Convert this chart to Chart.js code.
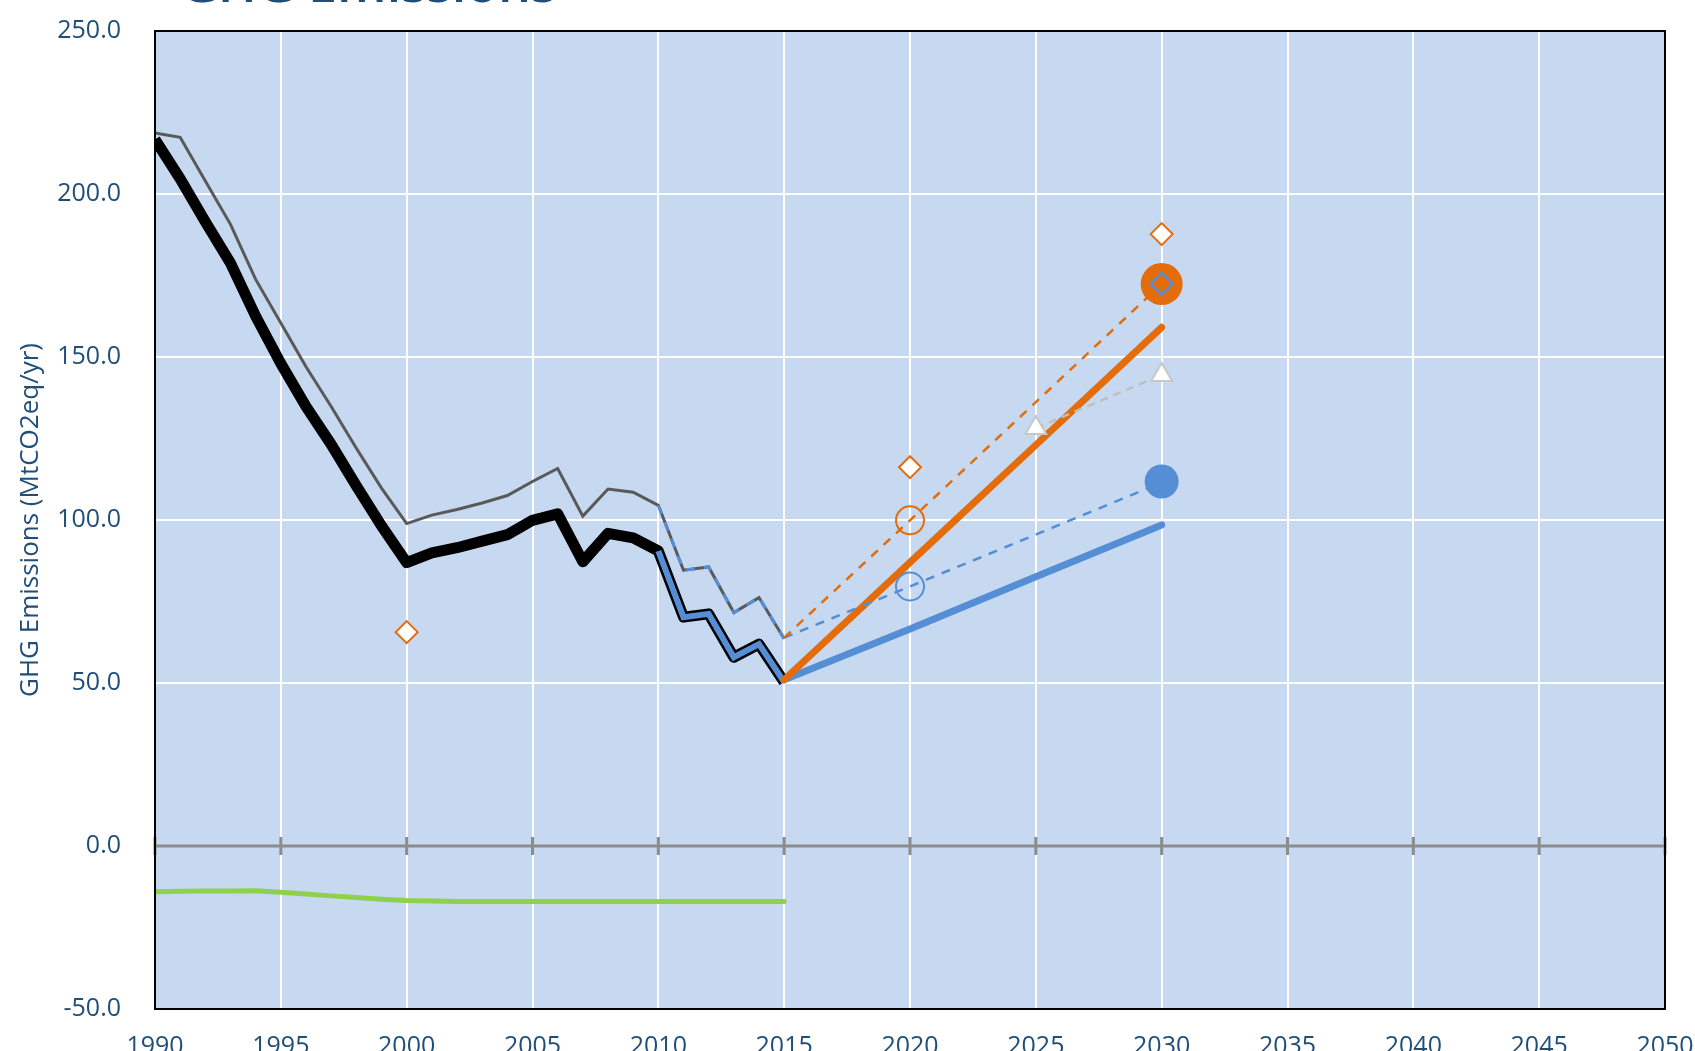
<!DOCTYPE html>
<html>
<head>
<meta charset="utf-8">
<script src="https://cdn.jsdelivr.net/npm/chart.js@4.4.1/dist/chart.umd.min.js"></script>
<style>
  html, body { margin: 0; padding: 0; background: #fff; overflow: hidden; width: 1695px; height: 1051px; }
  #wrap { position: absolute; left: 0; top: -40px; width: 1695px; height: 1125px; }
</style>
</head>
<body>
<div id="wrap"><canvas id="chart"></canvas></div>
<script>
const histYears = [1990, 1991, 1992, 1993, 1994, 1995, 1996, 1997, 1998, 1999, 2000, 2001, 2002,
  2003, 2004, 2005, 2006, 2007, 2008, 2009, 2010, 2011, 2012, 2013, 2014, 2015];
const netTotal = [216.7, 204.7, 191.5, 178.8, 162.5, 148.0, 134.8, 123.2, 110.5, 98.2, 86.9, 89.9, 91.5,
  93.5, 95.5, 99.9, 101.9, 87.2, 95.9, 94.5, 90.5, 70.2, 71.2, 57.9, 61.9, 50.3];
const grossTotal = [218.7, 217.4, 204.0, 190.7, 173.8, 160.4, 147.0, 134.8, 122.0, 109.8, 98.9, 101.5, 103.2,
  105.2, 107.5, 111.8, 115.8, 101.2, 109.5, 108.5, 104.5, 84.6, 85.6, 71.6, 76.2, 63.6];
const lulucf = [-14.0, -13.9, -13.8, -13.8, -13.7, -14.2, -14.7, -15.3, -15.8, -16.3, -16.7, -16.9, -17.0,
  -17.0, -17.0, -17.0, -17.0, -17.0, -17.0, -17.0, -17.0, -17.0, -17.0, -17.0, -17.0, -17.0];

const projYears = [2015, 2020, 2025, 2030];
const projHigh = [51.0, 87.0, 123.0, 159.1];
const projLow = [51.0, 66.6, 82.6, 98.5];

const targetYears = [2015, 2020, 2030];
const targetHigh = [63.9, 99.9, 172.4];
const targetLow = [63.9, 79.6, 111.5];

const triYears = [2025, 2030];
const triValues = [128.2, 144.5];

const diamondYears = [2000, 2020, 2030];
const diamondValues = [65.6, 116.2, 187.7];

const bigOrange = 172.4;
const bigBlue = 111.8;

const xTicks = [1990, 1995, 2000, 2005, 2010, 2015, 2020, 2025, 2030, 2035, 2040, 2045, 2050];

const ORANGE = "#e46c0a";
const BLUE = "#558ed5";
const TEXT = "#1f4e79";

const pts = (xs, ys) => xs.map((x, i) => ({ x, y: ys[i] }));
const lastFive = (arr) => arr.slice(histYears.indexOf(2010));

// background, zero line with cross ticks, frame and the (cropped) chart title
const plotFrame = {
  id: "plotFrame",
  beforeDraw(chart) {
    const { ctx, chartArea: a } = chart;
    ctx.save();
    ctx.fillStyle = "#c6d9f0";
    ctx.fillRect(a.left, a.top, a.right - a.left, a.bottom - a.top);
    ctx.restore();
  },
  beforeDatasetsDraw(chart) {
    const { ctx, chartArea: a, scales } = chart;
    const y0 = scales.y.getPixelForValue(0);
    ctx.save();
    ctx.strokeStyle = "#8c8c8c";
    ctx.lineWidth = 3;
    ctx.beginPath();
    ctx.moveTo(a.left, y0);
    ctx.lineTo(a.right, y0);
    xTicks.forEach((v) => {
      const x = scales.x.getPixelForValue(v);
      ctx.moveTo(x, y0 - 9);
      ctx.lineTo(x, y0 + 9);
    });
    ctx.stroke();
    ctx.restore();
  },
  afterDraw(chart) {
    const { ctx, chartArea: a } = chart;
    ctx.save();
    ctx.strokeStyle = "#000";
    ctx.lineWidth = 2;
    ctx.strokeRect(a.left, a.top, a.right - a.left, a.bottom - a.top);
    ctx.fillStyle = TEXT;
    ctx.font = "600 52px 'Open Sans'";
    ctx.textBaseline = "alphabetic";
    ctx.textAlign = "left";
    ctx.fillText("GHG Emissions", 180, 42);
    ctx.restore();
  },
};

new Chart(document.getElementById("chart"), {
  type: "line",
  data: {
    datasets: [
      { data: [{ x: 2030, y: bigOrange }], pointStyle: "rectRot", pointRadius: 11, pointBorderWidth: 2.5,
        pointBorderColor: BLUE, pointBackgroundColor: "rgba(0,0,0,0)", showLine: false },
      { data: [{ x: 2030, y: bigOrange }], pointRadius: 21, pointBackgroundColor: ORANGE, pointBorderWidth: 0, showLine: false },
      { data: pts(diamondYears, diamondValues), pointStyle: "rectRot", pointRadius: 11, pointBorderWidth: 2,
        pointBorderColor: ORANGE, pointBackgroundColor: "#fff", showLine: false },
      { data: [{ x: 2030, y: bigBlue }], pointRadius: 17, pointBackgroundColor: BLUE, pointBorderWidth: 0, showLine: false },
      { data: pts(triYears, triValues), borderColor: "#bfbfbf", borderWidth: 2.5, borderDash: [8, 6],
        pointStyle: "triangle", pointRadius: 12, pointBorderColor: "#c8c8c8", pointBackgroundColor: "#fff", pointBorderWidth: 2 },
      { data: pts(targetYears, targetHigh), borderColor: ORANGE, borderWidth: 2.5, borderDash: [9, 8],
        pointRadius: [0, 14, 0], pointBorderColor: ORANGE, pointBorderWidth: 2, pointBackgroundColor: "rgba(0,0,0,0)" },
      { data: pts(targetYears, targetLow), borderColor: BLUE, borderWidth: 2.5, borderDash: [9, 8],
        pointRadius: [0, 14, 0], pointBorderColor: BLUE, pointBorderWidth: 2, pointBackgroundColor: "rgba(0,0,0,0)" },
      { data: pts(projYears, projHigh), borderColor: ORANGE, borderWidth: 7, borderCapStyle: "round", pointRadius: 0 },
      { data: pts(projYears, projLow), borderColor: BLUE, borderWidth: 7, borderCapStyle: "round", pointRadius: 0 },
      { data: pts(histYears.slice(20), lastFive(grossTotal)), borderColor: BLUE, borderWidth: 3, borderDash: [9, 9], pointRadius: 0 },
      { data: pts(histYears, grossTotal), borderColor: "#595959", borderWidth: 3, pointRadius: 0 },
      { data: pts(histYears.slice(20), lastFive(netTotal)), borderColor: BLUE, borderWidth: 6, pointRadius: 0 },
      { data: pts(histYears, netTotal), borderColor: "#000", borderWidth: 11, borderJoinStyle: "round", pointRadius: 0 },
      { data: pts(histYears, lulucf), borderColor: "#8fd14f", borderWidth: 5, borderCapStyle: "round", pointRadius: 0 },
    ],
  },
  options: {
    responsive: true,
    maintainAspectRatio: false,
    animation: false,
    events: [],
    layout: { padding: { top: 71, right: 30, left: 0, bottom: 0 } },
    plugins: {
      legend: { display: false },
      tooltip: { enabled: false },
      title: { display: false },
    },
    scales: {
      x: {
        type: "linear",
        min: 1990,
        max: 2050,
        afterBuildTicks: (s) => { s.ticks = xTicks.map((v) => ({ value: v })); },
        afterFit: (s) => { s.paddingLeft = 0; s.paddingRight = 0; },
        ticks: { color: TEXT, font: { family: "Open Sans", size: 25 }, padding: 23, maxRotation: 0,
          callback: (v) => String(v) },
        grid: { color: "#ffffff", lineWidth: 2, drawTicks: false },
        border: { display: false },
      },
      y: {
        min: -50,
        max: 250,
        afterFit: (s) => { s.width = 155; s.paddingTop = 0; s.paddingBottom = 0; },
        ticks: { stepSize: 50, color: TEXT, font: { family: "Open Sans", size: 25 }, padding: 34,
          callback: (v) => v.toFixed(1) },
        grid: { color: "#ffffff", lineWidth: 2, drawTicks: false },
        border: { display: false },
        title: { display: true, text: "GHG Emissions (MtCO2eq/yr)", color: TEXT,
          font: { family: "Open Sans", size: 26 }, padding: { top: 15, bottom: 0 } },
      },
    },
  },
  plugins: [plotFrame],
});
</script>
</body>
</html>
